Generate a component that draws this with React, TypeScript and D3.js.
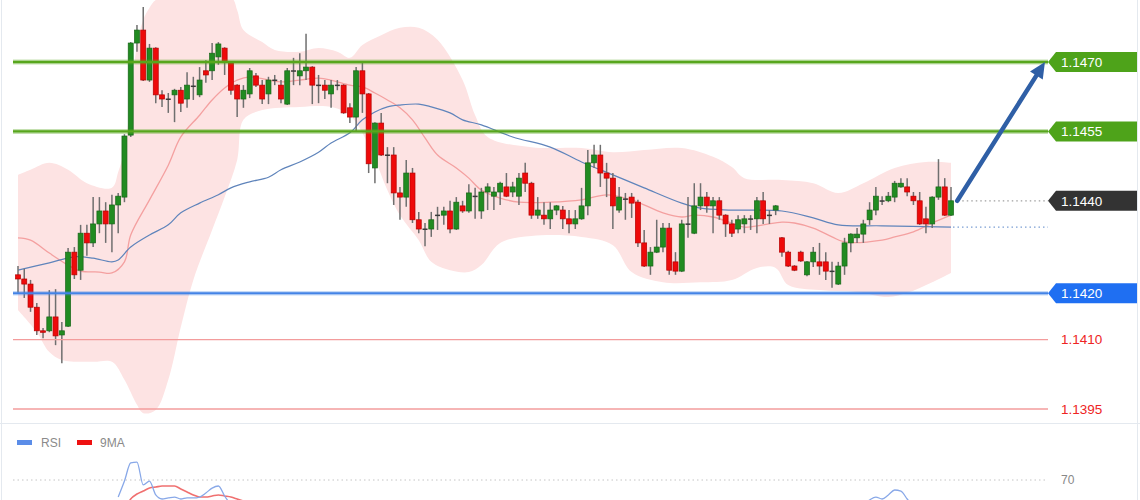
import React from "react";
import * as d3 from "d3";

const opens = [
  1.1424, 1.14231, 1.1422, 1.1417, 1.14119, 1.14119, 1.14149, 1.1411, 1.14129, 1.14289,
  1.1425, 1.1433, 1.14309, 1.1435, 1.14378, 1.1435, 1.14391, 1.14408, 1.14542, 1.14741,
  1.14769, 1.14661, 1.1473, 1.14629, 1.1462, 1.14629, 1.14639, 1.1462, 1.14648, 1.14629,
  1.14681, 1.14681, 1.14711, 1.1473, 1.14698, 1.1465, 1.1462, 1.14631, 1.1467, 1.1465,
  1.14631, 1.14661, 1.1465, 1.14609, 1.14681, 1.1467, 1.14681, 1.14689, 1.1465, 1.1465,
  1.14631, 1.1465, 1.1465, 1.14601, 1.14581, 1.14681, 1.14631, 1.14471, 1.14568, 1.14499,
  1.14499, 1.14417, 1.14408, 1.1446, 1.14359, 1.14339, 1.14339, 1.14369, 1.14369, 1.14378,
  1.14339, 1.14389, 1.14378, 1.1441, 1.14378, 1.14419, 1.1441, 1.14419, 1.1443, 1.14419,
  1.1441, 1.1446, 1.14438, 1.14369, 1.14369, 1.14361, 1.1438, 1.1438, 1.14361, 1.1435,
  1.14361, 1.14389, 1.14482, 1.14499, 1.1446, 1.14449, 1.1438, 1.14404, 1.14408, 1.14397,
  1.14309, 1.14259, 1.14289, 1.143, 1.14341, 1.14268, 1.14248, 1.1435, 1.1433, 1.14389,
  1.14408, 1.14389, 1.144, 1.14369, 1.1435, 1.14339, 1.1435, 1.14361, 1.14361, 1.144,
  1.14369, 1.1438, 1.1432, 1.14289, 1.14259, 1.14289, 1.1424, 1.14268, 1.14268, 1.14268,
  1.14248, 1.1422, 1.14259, 1.14309, 1.1432, 1.14328, 1.14359, 1.1438, 1.144, 1.144,
  1.14408, 1.1443, 1.1443, 1.1441, 1.144, 1.14361, 1.1435, 1.14408, 1.1443, 1.14369,
];

const highs = [
  1.14259, 1.14253, 1.14229, 1.14179, 1.14125, 1.14207, 1.14209, 1.14138, 1.14298, 1.143,
  1.14348, 1.14348, 1.14408, 1.14408, 1.14397, 1.14413, 1.14417, 1.14544, 1.14743, 1.1478,
  1.14819, 1.14739, 1.14732, 1.14639, 1.14633, 1.14642, 1.14646, 1.14678, 1.14668, 1.14689,
  1.14704, 1.14741, 1.14743, 1.14732, 1.147, 1.14652, 1.1465, 1.14687, 1.14676, 1.14661,
  1.14668, 1.14672, 1.14661, 1.14687, 1.14709, 1.14719, 1.14761, 1.14691, 1.14672, 1.14661,
  1.14661, 1.14661, 1.14652, 1.14611, 1.14689, 1.14698, 1.14633, 1.1457, 1.1459, 1.14516,
  1.14516, 1.1443, 1.14488, 1.14471, 1.14376, 1.14352, 1.14376, 1.14387, 1.14387, 1.144,
  1.14408, 1.144, 1.14436, 1.14428, 1.14428, 1.14438, 1.1443, 1.14441, 1.1446, 1.14441,
  1.1446, 1.14482, 1.14441, 1.14408, 1.14397, 1.14397, 1.14391, 1.14389, 1.1438, 1.1438,
  1.14428, 1.1451, 1.14521, 1.14521, 1.14482, 1.1446, 1.1443, 1.14417, 1.14417, 1.14402,
  1.14337, 1.143, 1.14359, 1.14352, 1.14352, 1.14289, 1.14359, 1.14408, 1.14438, 1.14438,
  1.14419, 1.14408, 1.14408, 1.14371, 1.14359, 1.14369, 1.14369, 1.14369, 1.14408, 1.14419,
  1.1438, 1.14391, 1.14322, 1.14292, 1.14261, 1.14292, 1.1427, 1.143, 1.14309, 1.14289,
  1.14268, 1.14268, 1.1432, 1.1433, 1.14341, 1.14359, 1.14397, 1.1443, 1.1441, 1.14419,
  1.14443, 1.14449, 1.14449, 1.14419, 1.14419, 1.14387, 1.1441, 1.1449, 1.14449, 1.1443,
];

const lows = [
  1.14201, 1.1419, 1.1416, 1.1411, 1.14103, 1.14116, 1.14088, 1.14049, 1.14127, 1.14231,
  1.14229, 1.14281, 1.143, 1.1433, 1.14309, 1.14289, 1.1433, 1.14397, 1.14538, 1.14722,
  1.14659, 1.14657, 1.14611, 1.14603, 1.1459, 1.1457, 1.14592, 1.14601, 1.14618, 1.14624,
  1.14655, 1.14661, 1.14694, 1.14672, 1.14629, 1.14581, 1.14601, 1.14622, 1.14646, 1.14609,
  1.14609, 1.1465, 1.14611, 1.14607, 1.1465, 1.1465, 1.14661, 1.14609, 1.14611, 1.1462,
  1.14601, 1.14639, 1.14588, 1.14568, 1.14549, 1.1459, 1.1446, 1.14438, 1.14497, 1.14438,
  1.14391, 1.14359, 1.14387, 1.14352, 1.1433, 1.14302, 1.14322, 1.14337, 1.14348, 1.1433,
  1.14337, 1.14374, 1.14374, 1.14361, 1.14361, 1.1438, 1.1438, 1.14391, 1.14408, 1.14408,
  1.14391, 1.14419, 1.14361, 1.14361, 1.14348, 1.14339, 1.14369, 1.14339, 1.1433, 1.14339,
  1.14359, 1.14369, 1.14471, 1.1443, 1.14408, 1.14339, 1.14374, 1.14359, 1.14363, 1.143,
  1.14257, 1.1424, 1.14287, 1.14289, 1.1424, 1.1424, 1.14246, 1.1432, 1.14328, 1.1438,
  1.14374, 1.1433, 1.14359, 1.14322, 1.14322, 1.1433, 1.1433, 1.14337, 1.1433, 1.1435,
  1.1435, 1.14369, 1.14279, 1.14257, 1.14248, 1.14268, 1.14237, 1.14257, 1.1424, 1.14229,
  1.14212, 1.14218, 1.1424, 1.14289, 1.14309, 1.14309, 1.14348, 1.14369, 1.14391, 1.14397,
  1.14397, 1.14428, 1.1441, 1.14391, 1.14348, 1.1433, 1.14341, 1.14402, 1.14367, 1.14367,
];

const closes = [
  1.14231, 1.1422, 1.1417, 1.14119, 1.14116, 1.14149, 1.14108, 1.14119, 1.14289, 1.1424,
  1.1433, 1.14309, 1.1435, 1.14378, 1.1435, 1.14391, 1.1441, 1.1454, 1.14741, 1.14769,
  1.14661, 1.1473, 1.14629, 1.1462, 1.14619, 1.14639, 1.14611, 1.1465, 1.14647, 1.14661,
  1.14672, 1.14719, 1.14739, 1.147, 1.14639, 1.1462, 1.14639, 1.14681, 1.1465, 1.1462,
  1.14661, 1.1466, 1.1462, 1.14681, 1.1468, 1.14681, 1.14689, 1.1465, 1.14649, 1.14639,
  1.1465, 1.14649, 1.1459, 1.14581, 1.14681, 1.14631, 1.1448, 1.14568, 1.14499, 1.14498,
  1.14417, 1.14408, 1.1446, 1.14359, 1.14339, 1.14338, 1.14359, 1.14368, 1.14378, 1.14339,
  1.14397, 1.14378, 1.14417, 1.14409, 1.14419, 1.1443, 1.14419, 1.14438, 1.1441, 1.1443,
  1.14449, 1.14438, 1.14369, 1.1438, 1.14361, 1.1438, 1.14389, 1.14361, 1.1435, 1.14361,
  1.14389, 1.14482, 1.14499, 1.1446, 1.14449, 1.14389, 1.14408, 1.14403, 1.14395, 1.14309,
  1.14259, 1.14289, 1.143, 1.14341, 1.1425, 1.14248, 1.1435, 1.14349, 1.14389, 1.14408,
  1.14389, 1.144, 1.14369, 1.1435, 1.1433, 1.14359, 1.14361, 1.1436, 1.144, 1.14361,
  1.14368, 1.14389, 1.14289, 1.14259, 1.1425, 1.1427, 1.14268, 1.14289, 1.14259, 1.14248,
  1.14247, 1.14259, 1.14309, 1.14328, 1.14328, 1.1435, 1.1438, 1.1441, 1.14399, 1.1441,
  1.14438, 1.14438, 1.14419, 1.144, 1.1435, 1.1435, 1.14408, 1.1443, 1.14369, 1.144,
];

// [candle index, price]
const upperBand: [number, number][] = [
  [0, 1.14456], [2, 1.14467], [5, 1.14482], [8, 1.14467], [11, 1.14438], [15, 1.14428],
  [16, 1.14462], [17, 1.1451], [18, 1.14618], [19, 1.14737], [20, 1.14791], [21, 1.14817],
  [22, 1.14834], [24, 1.1484], [34, 1.1484], [35, 1.14812], [36, 1.14769], [39, 1.14743],
  [41, 1.14726], [45, 1.14722], [48, 1.1473], [51, 1.14722], [53, 1.14709], [55, 1.14737],
  [58, 1.14758], [61, 1.14774], [64, 1.14774], [67, 1.14748], [71, 1.14661], [73, 1.14585],
  [75, 1.14538], [82, 1.14516], [90, 1.14514], [95, 1.14505], [100, 1.1451], [106, 1.14514],
  [111, 1.14495], [114, 1.14473], [116, 1.14449], [122, 1.14445], [127, 1.14438], [131, 1.14417],
  [135, 1.14438], [140, 1.14471], [145, 1.14484], [149, 1.14482],
];

const lowerBand: [number, number][] = [
  [0, 1.14164], [3, 1.14116], [5, 1.14073], [7, 1.14056], [12, 1.14052], [15, 1.14052],
  [17, 1.14013], [19, 1.13959], [20, 1.13941], [22, 1.13948], [24, 1.14013], [26, 1.14127],
  [28, 1.14229], [31, 1.14337], [33, 1.14408], [35, 1.14488], [36, 1.14575], [39, 1.14596],
  [45, 1.14603], [50, 1.14603], [53, 1.14585], [56, 1.14521], [59, 1.14423], [61, 1.14369],
  [64, 1.14315], [66, 1.14268], [69, 1.1425], [72, 1.14246], [74, 1.14261], [77, 1.14309],
  [82, 1.14324], [90, 1.14322], [95, 1.14304], [98, 1.14246], [103, 1.14224], [109, 1.14224],
  [114, 1.14229], [118, 1.14255], [121, 1.14255], [123, 1.14218], [128, 1.14207], [134, 1.14203],
  [139, 1.14192], [142, 1.14201], [146, 1.14224], [149, 1.14244],
];

const middleBand: [number, number][] = [
  [0, 1.1432], [2, 1.14315], [5, 1.14287], [8, 1.14261], [10, 1.14248], [13, 1.14246],
  [15, 1.14244], [17, 1.14268], [18, 1.14326], [21, 1.14402], [24, 1.14477], [26, 1.14538],
  [29, 1.14585], [31, 1.14618], [33, 1.14644], [35, 1.14661], [37, 1.14668], [40, 1.14661],
  [42, 1.14657], [45, 1.14661], [48, 1.14665], [50, 1.14661], [53, 1.1465], [55, 1.14646],
  [57, 1.14633], [59, 1.14618], [61, 1.14601], [63, 1.14575], [65, 1.14536], [67, 1.14499],
  [70, 1.14471], [72, 1.14449], [74, 1.14423], [77, 1.14406], [80, 1.14397], [85, 1.14397],
  [90, 1.14402], [94, 1.14413], [98, 1.14402], [103, 1.14374], [106, 1.14365], [108, 1.14369],
  [111, 1.14365], [114, 1.14352], [116, 1.14343], [119, 1.14348], [122, 1.14354], [124, 1.14352],
  [127, 1.14341], [130, 1.14322], [132, 1.14311], [138, 1.14315], [140, 1.14322], [143, 1.14333],
  [146, 1.14352], [149, 1.14369],
];

const longMA: [number, number][] = [
  [0, 1.1425], [5, 1.14266], [9, 1.14279], [12, 1.14276], [15, 1.14268], [16, 1.14272],
  [18, 1.143], [21, 1.14326], [24, 1.14348], [26, 1.14374], [29, 1.14395], [32, 1.14413],
  [34, 1.14428], [37, 1.14441], [40, 1.14451], [42, 1.14467], [45, 1.14484], [48, 1.14505],
  [50, 1.14525], [53, 1.14547], [55, 1.14575], [57, 1.14592], [59, 1.14603], [61, 1.14607],
  [64, 1.14609], [66, 1.14603], [69, 1.1459], [71, 1.14575], [74, 1.14564], [79, 1.14538],
  [85, 1.14516], [90, 1.14484], [95, 1.14456], [100, 1.14428], [106, 1.14395], [109, 1.14384],
  [114, 1.1438], [122, 1.14378], [127, 1.14363], [131, 1.14348], [138, 1.14346], [149, 1.14343],
];

const levelValues = [1.147, 1.1455, 1.144, 1.142, 1.141, 1.1395];
const levelTexts = ["1.1470", "1.1455", "1.1440", "1.1420", "1.1410", "1.1395"];
const levelTypes = ["res", "res", "last", "sup", "minor", "minor"];

const arrowTargetIndex = 164;
const arrowTargetPrice = 1.147;

const rsiStartA = 16;
const rsiA = [56.9, 69.2, 83.1, 83.8, 66.2, 69.2, 58.5, 55.4, 56.2, 56.9, 55.4, 56.2, 56.2, 56.9, 60, 63.8, 65.4, 57.7, 50.8];
const rsiStartB = 135;
const rsiB = [50.8, 54.6, 56.9, 55.4, 58.5, 62.3, 61.5, 55.4, 50];
const ma9Start = 17;
const ma9 = [46.9, 55.4, 59.2, 61.5, 63.8, 64.6, 65.4, 65.4, 65.4, 63.1, 60.8, 58.5, 56.9, 56.9, 57.7, 58.5, 57.7, 56.9, 55.4, 53.8];
const rsiLevel = 70;

const FONT = "'Liberation Sans', Arial, sans-serif";

export default function App() {
  const W = 1140;
  const H = 500;
  const n = opens.length;
  const x = d3.scaleLinear().domain([0, n - 1]).range([18, 951]);
  const y = d3.scaleLinear().domain([1.1395, 1.147]).range([409, 62]);
  const yR = d3.scaleLinear().domain([30, 70]).range([532, 480]);
  const curve = d3.curveCatmullRom.alpha(0.5);
  const pline = d3
    .line<[number, number]>()
    .x((d) => x(d[0]))
    .y((d) => y(d[1]))
    .curve(curve);
  const up = pline(upperBand) as string;
  const lo = pline(lowerBand.slice().reverse()) as string;
  const bandPath = up + "L" + lo.slice(1) + "Z";

  const rline = d3
    .line<number>()
    .curve(d3.curveMonotoneX);
  const seg = (start: number, vals: number[]) =>
    rline.x((_, i) => x(start + i)).y((v) => yR(v))(vals) as string;

  const lineLeft = 13;
  const tipX = 1048;
  const boxLeft = 1056;
  const boxRight = 1137;
  const bw = 5;

  // arrow
  const lastClose = closes[n - 1];
  const ax0 = x(n);
  const ay0 = y(lastClose);
  const ax1 = x(arrowTargetIndex);
  const ay1 = y(arrowTargetPrice);
  const dx = ax1 - ax0;
  const dy = ay1 - ay0;
  const len = Math.sqrt(dx * dx + dy * dy);
  const ux = dx / len;
  const uy = dy / len;
  const hl = 16;
  const hw = 7.5;
  const bx = ax1 - ux * hl;
  const by = ay1 - uy * hl;
  const head = `M${ax1},${ay1}L${bx - uy * hw},${by + ux * hw}L${bx + uy * hw},${by - ux * hw}Z`;

  const lastMA = longMA[longMA.length - 1];

  const styles: Record<string, any> = {
    res: { line: "#57a61c", halo: "rgba(87,166,28,0.35)", w: 2.4, hw: 5, box: "#4ea31a", text: "#ffffff" },
    sup: { line: "#4383e6", halo: "rgba(67,131,230,0.3)", w: 2, hw: 4.5, box: "#1f6ff2", text: "#ffffff" },
    last: { line: null, box: "#333333", text: "#ffffff" },
    minor: { line: "#f39c9c", halo: null, w: 1.4, box: null, text: "#ee2424" },
  };

  return (
    <div>
      <style>{`body{margin:0;background:#fff}`}</style>
      <svg width={W} height={H} style={{ display: "block", background: "#ffffff" }} fontFamily={FONT}>
        <defs>
          <clipPath id="rsiClip">
            <rect x={0} y={425} width={W} height={75} />
          </clipPath>
          <clipPath id="mainClip">
            <rect x={3} y={0} width={1134} height={422} />
          </clipPath>
        </defs>

        {/* panel frames */}
        <line x1={1.5} x2={1.5} y1={0} y2={H} stroke="#e4e9ef" strokeWidth={1} />
        <line x1={1137.5} x2={1137.5} y1={0} y2={H} stroke="#e4e9ef" strokeWidth={1} />
        <line x1={0} x2={W} y1={423.5} y2={423.5} stroke="#e4e9ef" strokeWidth={1} />

        <g clipPath="url(#mainClip)">
          {/* Bollinger band */}
          <path d={bandPath} fill="#fde3e3" stroke="none" />
          <path d={pline(middleBand) as string} fill="none" stroke="#f4a0a0" strokeWidth={1.3} />
          <path d={pline(longMA) as string} fill="none" stroke="#5f84bb" strokeWidth={1.2} />

          {/* candles */}
          {opens.map((o, i) => {
            const c = closes[i];
            const cx = x(i);
            const top = y(Math.max(o, c));
            const bot = y(Math.min(o, c));
            const doji = Math.abs(c - o) < 0.000025;
            const isUp = c >= o;
            const fill = doji ? "#3a3a3a" : isUp ? "#218b21" : "#ee0a0a";
            const stroke = doji ? "#3a3a3a" : isUp ? "#176617" : "#b50000";
            const h = Math.max(bot - top, 1.5);
            return (
              <g key={i}>
                <line x1={cx} x2={cx} y1={y(highs[i])} y2={y(lows[i])} stroke="#6f6f6f" strokeWidth={1.5} />
                <rect
                  x={cx - bw / 2}
                  y={doji ? (top + bot) / 2 - 0.75 : top}
                  width={bw}
                  height={h}
                  fill={fill}
                  stroke={doji ? "none" : stroke}
                  strokeWidth={0.7}
                />
              </g>
            );
          })}

          {/* level lines */}
          {levelValues.map((v, i) => {
            const s = styles[levelTypes[i]];
            if (!s.line) return null;
            const yy = y(v);
            return (
              <g key={"l" + i}>
                {s.halo && <line x1={lineLeft} x2={tipX} y1={yy} y2={yy} stroke={s.halo} strokeWidth={s.hw} />}
                <line x1={lineLeft} x2={tipX} y1={yy} y2={yy} stroke={s.line} strokeWidth={s.w} />
              </g>
            );
          })}

          {/* dotted guides */}
          <line x1={x(n) + 5} x2={tipX} y1={y(lastClose)} y2={y(lastClose)} stroke="#a0a0a0" strokeWidth={1.2} strokeDasharray="1.5,3" />
          <line x1={x(lastMA[0]) + 2} x2={tipX} y1={y(lastMA[1])} y2={y(lastMA[1])} stroke="#7c9fd4" strokeWidth={1.2} strokeDasharray="1.5,3" />

          {/* arrow */}
          <line x1={ax0} y1={ay0} x2={bx + ux * 2} y2={by + uy * 2} stroke="#2f5fa6" strokeWidth={4.5} strokeLinecap="round" />
          <path d={head} fill="#2f5fa6" />
        </g>

        {/* labels */}
        {levelValues.map((v, i) => {
          const s = styles[levelTypes[i]];
          const yy = y(v);
          return (
            <g key={"t" + i}>
              {s.box && (
                <path
                  d={`M${tipX},${yy}L${boxLeft},${yy - 10}L${boxRight},${yy - 10}L${boxRight},${yy + 10}L${boxLeft},${yy + 10}Z`}
                  fill={s.box}
                />
              )}
              <text x={1061} y={yy} dy="0.36em" fontSize={13.5} fill={s.text}>
                {levelTexts[i]}
              </text>
            </g>
          );
        })}

        {/* RSI panel */}
        <rect x={17} y={440} width={15} height={5} fill="#5b8de8" />
        <text x={41} y={442.5} dy="0.35em" fontSize={12} fill="#8a8a8a">RSI</text>
        <rect x={77} y={440} width={15} height={5} fill="#ee1111" />
        <text x={100} y={442.5} dy="0.35em" fontSize={12} fill="#8a8a8a">9MA</text>

        <line x1={lineLeft} x2={1046} y1={yR(rsiLevel)} y2={yR(rsiLevel)} stroke="#c4c4c4" strokeWidth={1} strokeDasharray="1.5,3" />
        <text x={1061} y={yR(rsiLevel)} dy="0.36em" fontSize={12} fill="#888">{String(rsiLevel)}</text>

        <g clipPath="url(#rsiClip)">
          <path d={seg(ma9Start, ma9)} fill="none" stroke="#f07070" strokeWidth={1.6} />
          <path d={seg(rsiStartA, rsiA)} fill="none" stroke="#88a8e8" strokeWidth={1.3} />
          <path d={seg(rsiStartB, rsiB)} fill="none" stroke="#88a8e8" strokeWidth={1.3} />
        </g>
      </svg>
    </div>
  );
}
